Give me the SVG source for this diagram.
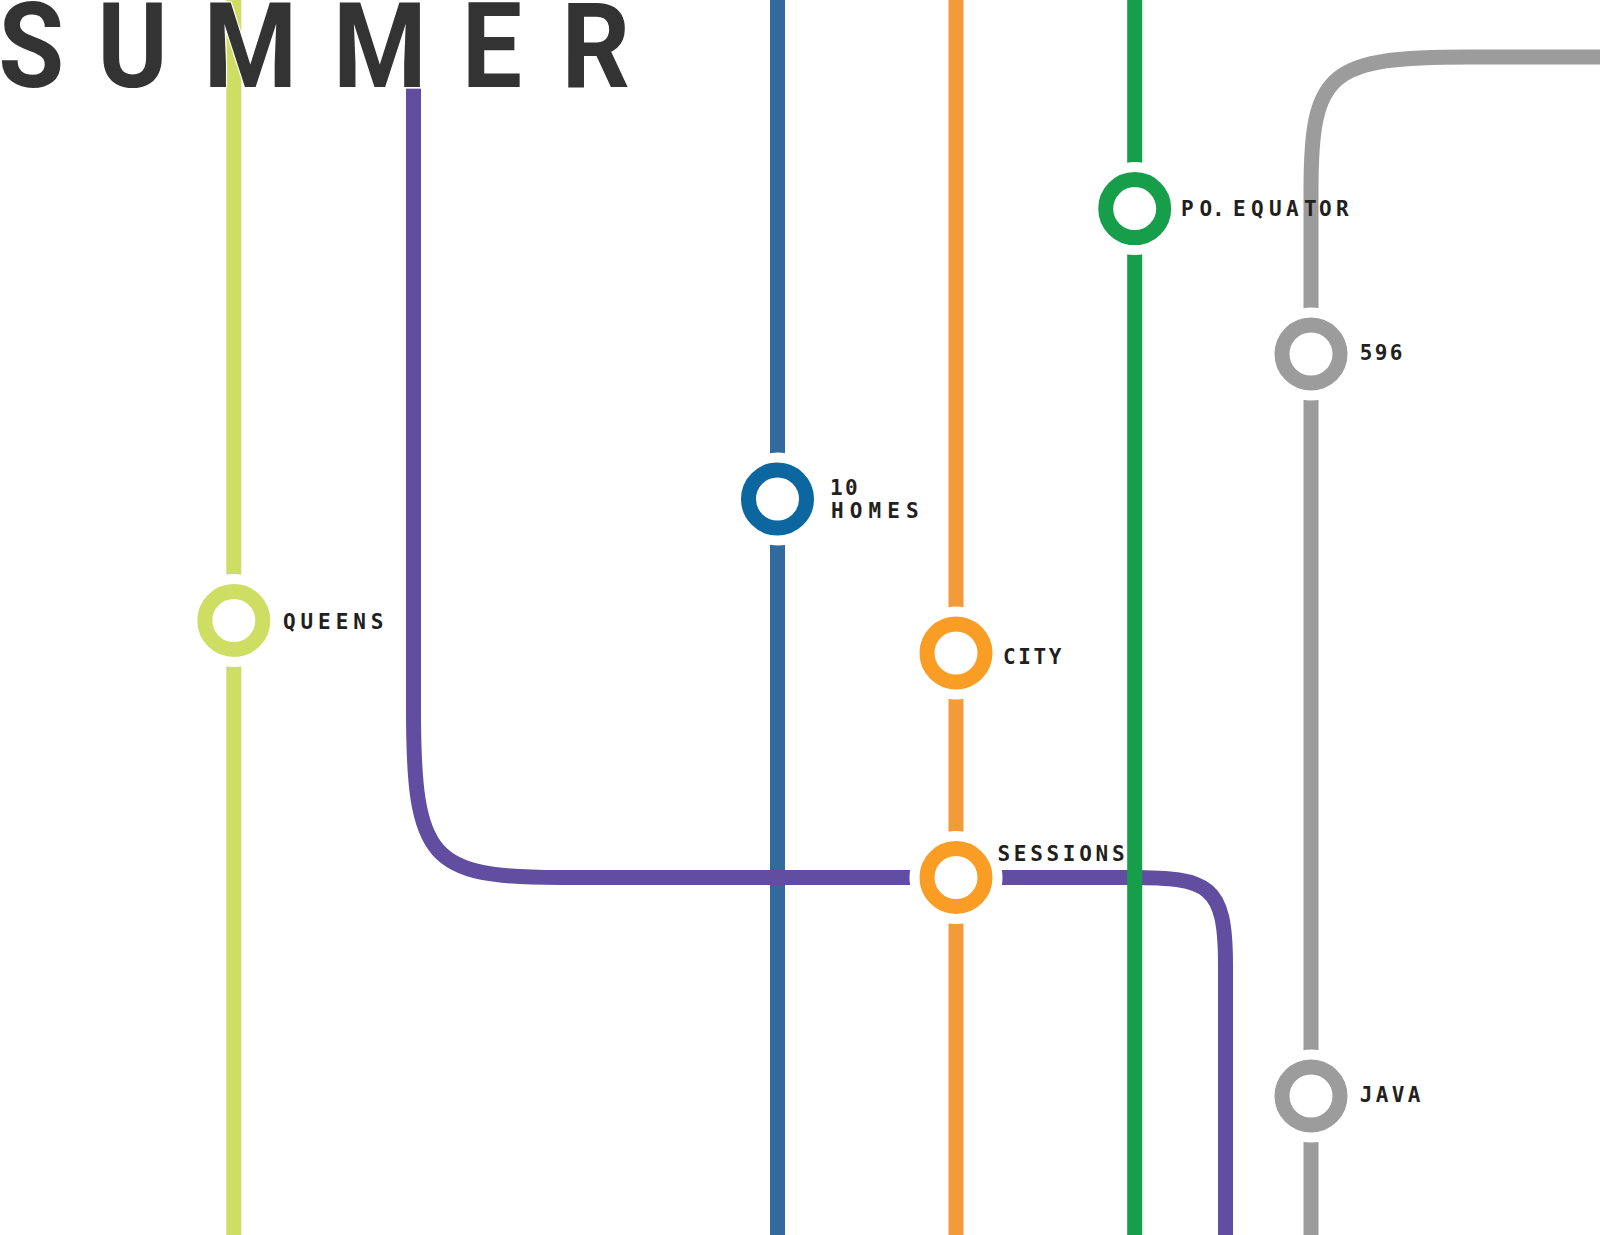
<svg xmlns="http://www.w3.org/2000/svg" width="1600" height="1235" viewBox="0 0 1600 1235">
<style>
.ln{fill:none;stroke-width:15}
.halo{fill:#fff}
.ring{fill:#fff;stroke-width:15}
.lb{font-family:"DejaVu Sans Mono","Liberation Mono",monospace;font-weight:700;font-size:21px;fill:#231f20}
.title{font-family:Roboto,"Liberation Sans",sans-serif;font-weight:700;font-size:119px;fill:#333;stroke:#fff;stroke-width:2.5px;paint-order:stroke}
</style>
<rect width="1600" height="1235" fill="#fff"/>
<g id="connectors">
<path id="line-lime" class="ln" stroke="#cede63" d="M233.8 0V1235"/>
<path id="line-blue" class="ln" stroke="#316a9b" d="M777.5 0V1235"/>
<path id="line-purple" class="ln" stroke="#614ea0" d="M413.5 88.500V710C413.500 860 430 877.500 560 877.500H1130C1210 877.500 1225.500 885 1225.500 965V1235"/>
<path id="line-orange" class="ln" stroke="#f49a3b" d="M956 0V1235"/>
<path id="line-green" class="ln" stroke="#179e4b" d="M1134.700 0V1235"/>
<path id="line-gray" class="ln" stroke="#9c9c9c" d="M1600 57H1470C1330 57 1311 70 1311 190V1235"/>
</g>
<text id="title" class="title" transform="scale(.9 1)" y="87" x="-2 108 226 370 513 624">SUMMER</text>
<g id="node-queens"><circle class="halo" cx="233.800" cy="620.500" r="46.500"/><circle class="ring" stroke="#cede63" cx="233.800" cy="620.500" r="29"/><text class="lb" x="283" y="628.700" letter-spacing="4.900">QUEENS</text></g>
<g id="node-10-homes"><circle class="halo" cx="777.500" cy="499" r="46.500"/><circle class="ring" stroke="#0c669f" cx="777.500" cy="499" r="29"/><text class="lb" x="830" y="494.500" letter-spacing="2.400">10</text><text class="lb" x="831" y="517.700" letter-spacing="6.100">HOMES</text></g>
<g id="node-city"><circle class="halo" cx="956" cy="653" r="46.500"/><circle class="ring" stroke="#f99d25" cx="956" cy="653" r="29"/><text class="lb" x="1003" y="663.500" letter-spacing="2.600">CITY</text></g>
<g id="node-sessions"><circle class="halo" cx="956" cy="877.500" r="46.500"/><circle class="ring" stroke="#f99d25" cx="956" cy="877.500" r="29"/><text class="lb" x="997.500" y="861" letter-spacing="3.700">SESSIONS</text></g>
<g id="node-po-equator"><circle class="halo" cx="1134.700" cy="208.600" r="46.500"/><circle class="ring" stroke="#179e4b" cx="1134.700" cy="208.600" r="29"/><text class="lb" x="1181 1199.500 1212 1227 1233 1251 1269 1286 1304 1319 1336" y="216">PO. EQUATOR</text></g>
<g id="node-596"><circle class="halo" cx="1311" cy="354" r="46.500"/><circle class="ring" stroke="#9c9c9c" cx="1311" cy="354" r="29"/><text class="lb" x="1359.700" y="360" letter-spacing="2.400">596</text></g>
<g id="node-java"><circle class="halo" cx="1311" cy="1096" r="46.500"/><circle class="ring" stroke="#9c9c9c" cx="1311" cy="1096" r="29"/><text class="lb" x="1359.700" y="1102" letter-spacing="3.400">JAVA</text></g>
</svg>
